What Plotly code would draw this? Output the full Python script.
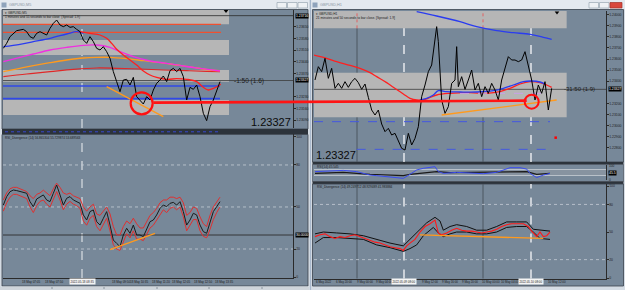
import plotly.graph_objects as go

W, H = 625, 290

# ============ DATA: left window (GBPUSD, M5) ============
m5_close = [1.23520, 1.23550, 1.23590, 1.23610, 1.23626, 1.23630, 1.23634, 1.23620, 1.23590, 1.23580,
            1.23610, 1.23620, 1.23610, 1.23600, 1.23640, 1.23670, 1.23690, 1.23660, 1.23650, 1.23660,
            1.23646, 1.23650, 1.23634, 1.23620, 1.23570, 1.23550, 1.23590, 1.23560, 1.23520, 1.23510,
            1.23530, 1.23500, 1.23460, 1.23380, 1.23320, 1.23260, 1.23330, 1.23334, 1.23300, 1.23346,
            1.23230, 1.23210, 1.23186, 1.23230, 1.23210, 1.23270, 1.23310, 1.23330, 1.23354, 1.23320,
            1.23386, 1.23400, 1.23380, 1.23400, 1.23350, 1.23210, 1.23286, 1.23274, 1.23300, 1.23230,
            1.23130, 1.23086, 1.23170, 1.23210, 1.23270, 1.23320]
m5_bar = list(range(len(m5_close)))

m5_blue_x = [0, 5, 9, 14, 19, 22, 24]
m5_blue = [1.23530, 1.23544, 1.23560, 1.23580, 1.23606, 1.23620, 1.23610]
m5_red_x = [23, 26, 29, 31, 32.5, 34, 36, 38, 40, 42, 44, 46, 49, 52, 55, 58, 60, 61.5, 63, 64.5, 65.2]
m5_red = [1.23620, 1.23610, 1.23600, 1.23580, 1.23550, 1.23514, 1.23480, 1.23450, 1.23420, 1.23384,
          1.23360, 1.23346, 1.23334, 1.23338, 1.23334, 1.23320, 1.23286, 1.23270, 1.23280, 1.23294, 1.23306]
m5_mag_x = [0, 5, 9, 14, 19, 24, 28, 32, 35, 39, 44, 49, 54, 59, 65]
m5_mag = [1.23440, 1.23466, 1.23486, 1.23510, 1.23526, 1.23538, 1.23540, 1.23526, 1.23500, 1.23470,
          1.23444, 1.23430, 1.23414, 1.23400, 1.23384]
m5_org_x = [0, 5, 9, 14, 19, 24, 28, 32, 37, 42, 47, 52, 57, 62, 65]
m5_org = [1.23380, 1.23400, 1.23416, 1.23434, 1.23450, 1.23462, 1.23466, 1.23466, 1.23458, 1.23446,
          1.23434, 1.23420, 1.23406, 1.23390, 1.23386]
m5_dred_x = [0, 7, 14, 21, 28, 34, 41, 48, 55, 61, 65]
m5_dred = [1.23350, 1.23366, 1.23380, 1.23394, 1.23402, 1.23400, 1.23396, 1.23390, 1.23386, 1.23382, 1.23380]
m5_trend_x = [31, 48]
m5_trend = [1.23290, 1.23110]
m5_zones = [(1.23750, 1.23664), (1.23570, 1.23480), (1.23390, 1.23320), (1.23210, 1.23120)]
m5_zone_end = 67.7
m5_red_levels = [1.23664, 1.23616]
m5_red_level_end = 65.3
m5_blue_levels = [1.23294, 1.23218]
m5_blue_level_end = 65.0
m5_top_line = 1.23716
m5_bid = 1.23327
m5_circle_x = [41.5]
m5_circle_y = [1.23190]
m5_vline = 23.6
m5_arrow_x = [66.8]
m5_arrow_y = [1.23744]
m5_ticks = [1.23650, 1.23580, 1.23510, 1.23440, 1.23370, 1.23230, 1.23160, 1.23090]

# left RSI divergence indicator
m5_rsi = [51.4, 57.4, 60.9, 62.1, 61.7, 60.9, 60.2, 59.8, 53.8, 50.2, 55.7, 57.4, 58.6, 55.0, 53.8, 59.8,
          65.7, 58.6, 51.4, 56.2, 57.4, 55.0, 53.8, 52.6, 44.3, 40.7, 46.7, 47.9, 39.5, 37.1, 41.9, 46.7,
          37.1, 26.4, 24.0, 21.7, 30.0, 34.8, 31.2, 37.1, 30.0, 30.0, 28.8, 34.8, 39.5, 40.7, 44.3, 49.0,
          51.4, 50.2, 52.6, 53.3, 51.4, 53.8, 46.7, 37.1, 40.7, 45.5, 44.3, 37.1, 32.4, 31.2, 39.5, 46.7,
          50.2, 53.8]
m5_rsi_up = [55, 60, 63, 64, 64, 63, 62, 61, 58, 56, 59, 60, 62, 60, 58, 63, 67, 64, 60, 59, 60, 58, 57, 56,
             50, 47, 50, 52, 45, 44, 47, 50, 45, 36, 30, 30, 36, 40, 38, 42, 38, 35, 35, 40, 44, 46, 49, 53,
             55, 55, 57, 57, 56, 57, 53, 44, 46, 50, 49, 43, 38, 36, 44, 50, 54, 57]
m5_rsi_dn = [47, 53, 57, 59, 59, 58, 57, 56, 50, 46, 51, 54, 55, 52, 50, 55, 61, 55, 48, 52, 54, 52, 51, 49,
             40, 37, 42, 44, 36, 33, 38, 42, 33, 23, 20, 19, 25, 31, 28, 33, 27, 27, 26, 30, 35, 37, 41, 45,
             48, 46, 49, 50, 48, 50, 43, 33, 37, 41, 41, 33, 29, 28, 34, 41, 46, 50]
m5_rsi_trend_x = [32, 45.5]
m5_rsi_trend = [19.5, 31.2]
m5_rsi_level = 30
m5_time_x = [-0.2, 5, 12, 32, 37.5, 44, 50, 56.5, 63]
m5_time_txt = ["18 May 2022", "18 May 07:05", "18 May 07:50", "18 May 09:50", "18 May 10:35",
               "18 May 11:20", "18 May 12:05", "18 May 12:50", "18 May 13:35"]
m5_time_box = "2022.05.18 08:35"

# ============ DATA: right window (GBPUSD, H1) ============
h1_x = [0, 1, 2, 3, 4, 5, 6, 7, 8, 9, 10, 11, 12, 13, 14, 15, 16, 17, 18, 19, 20, 21, 22, 23, 24, 25, 26,
        27, 28, 29, 30, 31, 32, 33, 34, 35, 36, 36.5, 37, 38, 39, 40, 41, 42, 42.5, 43, 44, 45, 46, 47, 48,
        49, 50, 51, 52, 53, 54, 55, 56, 57, 58, 59, 60, 61, 62, 63, 64, 65, 66, 67, 68, 69, 70, 71]
h1_close = [1.23411, 1.23531, 1.23486, 1.23606, 1.23426, 1.23516, 1.23336, 1.23381, 1.23336, 1.23396,
            1.23345, 1.23396, 1.23426, 1.23387, 1.23327, 1.23375, 1.23255, 1.23141, 1.23096, 1.23141,
            1.23015, 1.22946, 1.22976, 1.22916, 1.22931, 1.22871, 1.22796, 1.22781, 1.22931, 1.22826,
            1.22886, 1.22991, 1.23261, 1.23366, 1.23486, 1.23546, 1.23786, 1.23891, 1.23756, 1.23231,
            1.23111, 1.23171, 1.23381, 1.23411, 1.23711, 1.23351, 1.23441, 1.23327, 1.23411, 1.23501,
            1.23321, 1.23381, 1.23261, 1.23351, 1.23291, 1.23381, 1.23321, 1.23231, 1.23411, 1.23516,
            1.23621, 1.23591, 1.23591, 1.23576, 1.23591, 1.23666, 1.23531, 1.23411, 1.23231, 1.23366,
            1.23291, 1.23396, 1.23141, 1.23336]

h1_bluetop_x = [30.5, 36.5, 43.5, 48.5, 54.5, 59.5, 64.5, 68.5, 71]
h1_bluetop = [1.24026, 1.23987, 1.23936, 1.23891, 1.23855, 1.23837, 1.23822, 1.23795, 1.23777]
h1_red_x = [-0.5, 3.5, 6.5, 10.5, 13.5, 16.5, 18.5, 21.5, 23.5, 26.5, 28.5, 30.5, 33, 36.5, 40.5, 46.5,
            51.5, 55.5, 58.5, 61.5, 64.5, 67.5, 69.5, 71]
h1_red = [1.23636, 1.23606, 1.23576, 1.23543, 1.23516, 1.23477, 1.23441, 1.23387, 1.23345, 1.23285,
          1.23246, 1.23231, 1.23237, 1.23276, 1.23291, 1.23297, 1.23291, 1.23306, 1.23336, 1.23375,
          1.23396, 1.23387, 1.23366, 1.23345]
h1_blue_x = [31.5, 33.5, 35.5, 37, 39.5, 43.5, 48.5, 53.5, 56.5, 59.5, 62.5, 65, 67.5, 69]
h1_blue = [1.23231, 1.23246, 1.23276, 1.23315, 1.23306, 1.23303, 1.23303, 1.23315, 1.23336, 1.23366,
           1.23396, 1.23402, 1.23393, 1.23375]
h1_purple_x = [43.5, 70]
h1_purple = [1.23291, 1.23291]
h1_trend_x = [38, 72.5]
h1_trend = [1.23096, 1.23231]
h1_zones = [(1.24032, 1.23876), (1.23477, 1.23075)]
h1_zone_end = 75.5
h1_bid = 1.23327
h1_blue_dash = [(1.23036, -0.3, 70.5), (1.22787, 12.5, 70.5)]
h1_circle_x = [65]
h1_circle_y = [1.23216]
h1_dot_x = [72.2]
h1_dot_y = [1.22892]
h1_arrow_x = [72.6]
h1_arrow_y = [1.24018]
h1_vlines_dark = [12.6, 50.4]
h1_vlines_white = [26.7, 64.8]
h1_ticks = [1.24000, 1.23900, 1.23800, 1.23700, 1.23600, 1.23500, 1.23400, 1.23200, 1.23100,
            1.23000, 1.22900, 1.22800]

h1_rsi_x = [0, 4.5, 8.5, 12.5, 16.5, 18.5, 22.5, 24.5, 26.5, 28.5, 30.5, 32.5, 34.5, 36, 37, 38.5, 42.5,
            46.5, 50.5, 54.5, 56.5, 58.5, 61.5, 63.5, 64.5, 66.5, 68.5, 70.5]
h1_rsi = [56, 60, 64, 56, 33, 29, 22, 16, 11, 38, 67, 78, 82, 89, 56, 44, 51, 44, 42, 51, 67, 82, 82, 73,
          44, 16, 33, 44]
h1_rsi_sig_x = [0, 8.5, 16.5, 26.5, 28.5, 36.5, 40.5, 54.5, 63.5, 66.5, 70.5]
h1_rsi_sig = [44, 51, 38, 29, 38, 56, 49, 56, 56, 38, 44]

h1_div_x = [0, 1.5, 3, 4.5, 6, 7.5, 9, 10.5, 12, 13.5, 15, 16.5, 18, 19.5, 21, 22.5, 24, 25.5, 26.5, 27.5,
            28.5, 30, 31.5, 33, 34.5, 36, 37, 38, 39.5, 41, 42.5, 44, 45.5, 47, 48.5, 50, 51.5, 53, 54.5,
            56, 57.5, 59, 60.5, 62.5, 64, 65, 66.5, 67.5, 68.5, 69.5, 70.5]
h1_div = [45, 47, 48, 45, 43, 45, 44, 46, 47, 45, 43, 41, 39, 38, 36, 34, 33, 32, 30, 35, 38, 42, 50, 56,
          59, 63, 49, 47, 49, 52, 54, 52, 51, 51, 50, 49, 50, 51, 53, 56, 58, 59, 59, 59, 56, 51, 45, 50,
          45, 46, 50]
h1_div_up_x = [0, 2.5, 6.5, 10.5, 14.5, 18.5, 22.5, 26.5, 28.5, 31.5, 33.5, 36, 37.5, 38.5, 40.5, 42.5,
               45.5, 48.5, 51.5, 54.5, 57.5, 60.5, 63.5, 65.5, 67.5, 70.5]
h1_div_up = [48, 50, 49, 48, 46, 42, 38, 35, 42, 53, 60, 66, 62, 52, 56, 58, 56, 52, 52, 56, 61, 61, 61,
             53, 52, 51]
h1_div_dn_x = [0, 2.5, 6.5, 10.5, 14.5, 18.5, 22.5, 26.5, 28.5, 30.5, 32.5, 35.5, 37, 38.5, 40.5, 42.5,
               45.5, 48.5, 51.5, 54.5, 57.5, 60.5, 63.5, 65.5, 67.5, 70.5]
h1_div_dn = [38, 44, 44, 43, 42, 36, 33, 29, 32, 36, 46, 55, 49, 45, 48, 50, 50, 48, 48, 50, 55, 56, 56,
             50, 43, 42]
h1_div_trend_x = [31.5, 68.5]
h1_div_trend = [47, 43]
h1_time_px = [315, 335, 356, 375, 421, 441, 461.5, 480.5, 499.5, 547]
h1_time_txt = ["6 May 2022", "6 May 20:00", "9 May 00:00", "9 May 04:00", "9 May 12:00", "9 May 16:00",
               "9 May 20:00", "10 May 00:00", "10 May 04:00", "10 May 12:00"]
h1_time_box = ["2022.05.09 08:00", "2022.05.10 08:00"]

# ============ style constants ============
SLATE = "#778899"
ZONE = "#b6b6b6"
FRAME = "#d5dce4"
TXT = "#1c1c1c"
FONT = "Liberation Sans, Arial"

# axis geometry (pixels)
L_X = (3, 293); L_XR = [-0.1, 86.9]
L_MAIN = (10, 128); L_MAIN_R = [1.23042, 1.23750]
L_LOW = (134, 278); L_LOW_R = [-0.7, 102.1]
R_X = (314, 606); R_XR = [-0.3, 87.3]
R_MAIN = (11, 162); R_MAIN_R = [1.22673, 1.24032]
R_STRIP = (165, 180)
R_LOW = (184, 278.5); R_LOW_R = [-0.5, 102.2]


def fx(px):
    return px / W


def fy(py):
    return 1 - py / H


def dom_x(p):
    return [fx(p[0]), fx(p[1])]


def dom_y(p):
    return [fy(p[1]), fy(p[0])]


def data_to_px(xv, yv, xpx, xr, ypx, yr):
    px = xpx[0] + (xv - xr[0]) / (xr[1] - xr[0]) * (xpx[1] - xpx[0])
    py = ypx[1] - (yv - yr[0]) / (yr[1] - yr[0]) * (ypx[1] - ypx[0])
    return px, py


fig = go.Figure()


def line(x, y, color, width=1, xa="x", ya="y", dash=None, shape="linear"):
    fig.add_trace(go.Scatter(x=x, y=y, mode="lines", xaxis=xa, yaxis=ya, hoverinfo="skip",
                             line=dict(color=color, width=width, dash=dash, shape=shape),
                             showlegend=False))


# ---- left main traces
line(m5_blue_x, m5_blue, "#2a3cf0", 1.3, shape="spline")
line(m5_dred_x, m5_dred, "#e02828", 1.2, shape="spline")
line(m5_org_x, m5_org, "#ff9a1e", 1.3, shape="spline")
line(m5_mag_x, m5_mag, "#f030e0", 1.3, shape="spline")
line(m5_red_x, m5_red, "#ff2020", 1.3, shape="spline")
line(m5_trend_x, m5_trend, "#ff9a1e", 1.3)
line(m5_bar, m5_close, "#000000", 1)
fig.add_trace(go.Scatter(x=m5_circle_x, y=m5_circle_y, mode="markers", xaxis="x", yaxis="y",
                         marker=dict(symbol="circle-open", size=22, color="#ff1010", line=dict(width=2.2)),
                         showlegend=False, hoverinfo="skip"))
fig.add_trace(go.Scatter(x=m5_arrow_x, y=m5_arrow_y, mode="markers", xaxis="x", yaxis="y",
                         marker=dict(symbol="triangle-down", size=4, color="#000000"),
                         showlegend=False, hoverinfo="skip"))

# ---- left lower
line(m5_bar, m5_rsi_up, "#e03030", 1, "x2", "y2")
line(m5_bar, m5_rsi_dn, "#e03030", 1, "x2", "y2")
line(m5_bar, m5_rsi, "#1a1a1a", 1, "x2", "y2")
line(m5_rsi_trend_x, m5_rsi_trend, "#ff9a1e", 1.4, "x2", "y2")

# ---- right main
line(h1_bluetop_x, h1_bluetop, "#2a3cf0", 1.3, "x3", "y3", shape="spline")
line(h1_red_x, h1_red, "#ff2020", 1.3, "x3", "y3", shape="spline")
line(h1_purple_x, h1_purple, "#c8a0e8", 1, "x3", "y3", dash="dash")
line(h1_blue_x, h1_blue, "#2a3cf0", 1.3, "x3", "y3", shape="spline")
line(h1_trend_x, h1_trend, "#ff9a1e", 1.3, "x3", "y3")
line(h1_x, h1_close, "#000000", 1, "x3", "y3")
fig.add_trace(go.Scatter(x=h1_circle_x, y=h1_circle_y, mode="markers", xaxis="x3", yaxis="y3",
                         marker=dict(symbol="circle-open", size=14, color="#ff1010", line=dict(width=2)),
                         showlegend=False, hoverinfo="skip"))
fig.add_trace(go.Scatter(x=h1_dot_x, y=h1_dot_y, mode="markers", xaxis="x3", yaxis="y3",
                         marker=dict(symbol="square", size=2.5, color="#ff0000"),
                         showlegend=False, hoverinfo="skip"))
fig.add_trace(go.Scatter(x=h1_arrow_x, y=h1_arrow_y, mode="markers", xaxis="x3", yaxis="y3",
                         marker=dict(symbol="triangle-down", size=4, color="#000000"),
                         showlegend=False, hoverinfo="skip"))

# ---- right strip RSI
line(h1_rsi_sig_x, h1_rsi_sig, "#1a1a1a", 1.2, "x4", "y4")
line(h1_rsi_x, h1_rsi, "#3a4cf0", 1, "x4", "y4")

# ---- right lower
line(h1_div_up_x, h1_div_up, "#111111", 1, "x5", "y5")
line(h1_div_dn_x, h1_div_dn, "#111111", 1, "x5", "y5")
line(h1_div_x, h1_div, "#ff1a1a", 1.1, "x5", "y5")
line(h1_div_trend_x, h1_div_trend, "#ff9a1e", 1.3, "x5", "y5")

# ============ shapes ============
shapes = []


def prect(x0, y0, x1, y1, fill, lc=None, lw=0, layer="below"):
    shapes.append(dict(type="rect", xref="paper", yref="paper", x0=fx(x0), x1=fx(x1), y0=fy(y1), y1=fy(y0),
                       fillcolor=fill, line=dict(color=lc or fill, width=lw), layer=layer))


def pline(x0, y0, x1, y1, color, width=1, dash=None, layer="below"):
    shapes.append(dict(type="line", xref="paper", yref="paper", x0=fx(x0), x1=fx(x1), y0=fy(y0), y1=fy(y1),
                       line=dict(color=color, width=width, dash=dash), layer=layer))


# window chrome: title bars
prect(0, 0, 309, 9.5, "#e4e9ef")
prect(311, 0, 625, 9.5, "#e4e9ef")
prect(1.5, 2.5, 6.5, 7.5, "#8fa3bb")
prect(312.5, 2.5, 317.5, 7.5, "#8fa3bb")
for bx in (277, 287.5, 298):
    prect(bx, 2.5, bx + 9.5, 8, "#eef1f4", "#9aa6b2", 0.7)
for bx in (589, 599.5):
    prect(bx, 2.5, bx + 9.5, 8, "#eef1f4", "#9aa6b2", 0.7)
prect(610, 2.5, 622, 8, "#d9473c", "#a03028", 0.7)
pline(310.5, 0, 310.5, 290, "#a8b8cc", 1.2)

# pane backgrounds (left)
prect(2, 9.5, 308, 129, SLATE, "#3a424c", 0.8)
prect(2, 129, 308, 134.5, "#2c333b")
prect(2, 134.5, 308, 286, SLATE, "#3a424c", 0.8)
pline(5, 131.8, 220, 131.8, "#3848d0", 1, "dot")
prect(0, 286.5, 309, 290, "#cfd5db")
for sx in (52, 104, 157, 209, 262):
    pline(sx, 287, sx, 289, "#8a949e", 1)

# pane backgrounds (right)
prect(312.5, 9.5, 623.5, 162, SLATE, "#3a424c", 0.8)
prect(312.5, 162, 623.5, 164.5, "#2c333b")
prect(312.5, 164.5, 623.5, 181.5, SLATE, "#3a424c", 0.6)
prect(312.5, 181.5, 623.5, 184, "#2c333b")
prect(312.5, 184, 623.5, 286, SLATE, "#3a424c", 0.8)


def drect(xa, ya, x0, x1, y0, y1, fill):
    shapes.append(dict(type="rect", xref=xa, yref=ya, x0=x0, x1=x1, y0=y0, y1=y1,
                       fillcolor=fill, line=dict(width=0), layer="below"))


def dhline(xa, ya, y, x0, x1, color, width=1, dash=None):
    shapes.append(dict(type="line", xref=xa, yref=ya, x0=x0, x1=x1, y0=y, y1=y,
                       line=dict(color=color, width=width, dash=dash), layer="below"))


def dvline(xa, ya, x, color, width=1, dash=None):
    shapes.append(dict(type="line", xref=xa, yref=ya + " domain", x0=x, x1=x, y0=0, y1=1,
                       line=dict(color=color, width=width, dash=dash), layer="below"))


# left main zones & levels
for top, bot in m5_zones:
    drect("x", "y", L_XR[0], m5_zone_end, bot, top, ZONE)
for lv in m5_red_levels:
    dhline("x", "y", lv, L_XR[0], m5_red_level_end, "#f05030", 1.2)
for lv in m5_blue_levels:
    dhline("x", "y", lv, L_XR[0], m5_blue_level_end, "#3048e8", 1.6)
dhline("x", "y", m5_top_line, L_XR[0], L_XR[1], "#2a2a2a", 0.8)
dhline("x", "y", m5_bid, L_XR[0], L_XR[1], "#3c3c3c", 0.8)
dvline("x", "y", m5_vline, "#eef0f2", 1, "dash")
dvline("x2", "y2", m5_vline, "#eef0f2", 1, "dash")

# left lower levels
for lv in (80, 50, 20):
    dhline("x2", "y2", lv, L_XR[0], L_XR[1], "#c4ccd4", 0.8, "dot")
dhline("x2", "y2", m5_rsi_level, L_XR[0], L_XR[1], "#2e2e2e", 0.9)

# right main zones & lines
for top, bot in h1_zones:
    drect("x3", "y3", R_XR[0], h1_zone_end, bot, top, ZONE)
dhline("x3", "y3", h1_bid, R_XR[0], R_XR[1], "#3c3c3c", 0.8)
for lv, a, b in h1_blue_dash:
    dhline("x3", "y3", lv, a, b, "#4458e0", 1, "dash")
for v in h1_vlines_dark:
    dvline("x3", "y3", v, "#4c5660", 1)
    dvline("x5", "y5", v, "#4c5660", 1)
    shapes.append(dict(type="line", xref="x3", yref="y3", x0=v, x1=v, y0=h1_zones[0][1], y1=h1_zones[0][0],
                       line=dict(color="#e06060", width=1, dash="dot"), layer="below"))
for v in h1_vlines_white:
    dvline("x3", "y3", v, "#eef0f2", 1.4, "dash")
    dvline("x5", "y5", v, "#eef0f2", 1.4, "dash")

# right strip
drect("x4", "y4", R_XR[0], R_XR[1], 30, 70, "#8793a0")
dhline("x4", "y4", 70, R_XR[0], R_XR[1], "#c8ced4", 0.8)
dhline("x4", "y4", 30, R_XR[0], R_XR[1], "#c8ced4", 0.8)

# right lower levels
for lv in (80, 20):
    dhline("x5", "y5", lv, R_XR[0], R_XR[1], "#c4ccd4", 0.8, "dot")

# the long support line across both windows
sx, sy = data_to_px(45, 1.23194, L_X, L_XR, L_MAIN, L_MAIN_R)
ex, ey = data_to_px(63.5, 1.23225, R_X, R_XR, R_MAIN, R_MAIN_R)
pline(sx, sy, ex, ey, "#ff1414", 2.6, layer="above")

fig.update_layout(shapes=shapes)

# ============ annotations ============
ann = []


def ptext(x, y, text, size=5, color=TXT, anchor="left", bg=None, yanchor="middle"):
    ann.append(dict(x=fx(x), y=fy(y), xref="paper", yref="paper", text=text, showarrow=False,
                    xanchor=anchor, yanchor=yanchor, font=dict(size=size, color=color, family=FONT),
                    bgcolor=bg, borderpad=0))


ptext(8, 5, "GBPUSD,M5", 3.8, "#8a96a4")
ptext(319, 5, "GBPUSD,H1", 3.8, "#8a96a4")
ptext(4, 12.8, "▾ GBPUSD,M5", 3.2, "#202020")
ptext(4, 16.8, "1 minutes and 55 seconds to bar close  (Spread: 1.9)", 3.2, "#202020")
ptext(315, 13.5, "▾ GBPUSD,H1", 3.2, "#202020")
ptext(315, 18, "21 minutes and 50 seconds to bar close. [Spread: 1.9]", 3.3, "#202020")
ptext(233, 81, "-1:50 (1.6)", 6.5, "#1a1a1a")
ptext(563, 89, "-31:50 (1.9)", 6, "#1a1a1a")
ptext(292, 122, "1.23327", 11, "#0a0a0a", "right")
ptext(315, 155, "1.23327", 11, "#0a0a0a", "left")
ptext(4, 137.5, "RSI_Divergence (14) 56.865304 55.729874 53.689563", 3.1, "#1a1a1a")
ptext(316, 166.5, "RSI(14) 45.545", 3.2, "#1a1a1a")
ptext(316, 186.5, "RSI_Divergence (14) 49.249712 48.929489 41.983884", 3.1, "#1a1a1a")

# axis value boxes
_, by = data_to_px(0, m5_top_line, L_X, L_XR, L_MAIN, L_MAIN_R)
ptext(295, by, "1.23716", 3.4, "#ffffff", bg="#000000")
_, by = data_to_px(0, m5_bid, L_X, L_XR, L_MAIN, L_MAIN_R)
ptext(295, by, "1.23327", 3.4, "#ffffff", bg="#000000")
_, by = data_to_px(0, h1_bid, R_X, R_XR, R_MAIN, R_MAIN_R)
ptext(608, by, "1.23327", 3.4, "#ffffff", bg="#000000")
_, by = data_to_px(0, m5_rsi_level, L_X, L_XR, L_LOW, L_LOW_R)
ptext(295, by, "30.0000", 3.4, "#ffffff", bg="#000000")
ptext(608, 172.5, "45.5", 3.4, "#ffffff", bg="#000000")
ptext(608, 166, "100", 3.2)
ptext(608, 179.5, "0", 3.2)

# time labels
for xv, t in zip(m5_time_x, m5_time_txt):
    ann.append(dict(x=xv, y=fy(281.5), xref="x2", yref="paper", text=t, showarrow=False, xanchor="left",
                    yanchor="middle", font=dict(size=3.0, color="#1a1a1a", family=FONT)))
ann.append(dict(x=m5_vline, y=fy(281.5), xref="x2", yref="paper", text=m5_time_box, showarrow=False,
                xanchor="center", yanchor="middle", bgcolor="#f4f4f4", borderpad=0.5,
                font=dict(size=3.0, color="#1a1a1a", family=FONT)))
for px_, t in zip(h1_time_px, h1_time_txt):
    ptext(px_, 281.5, t, 2.9, "#1a1a1a")
for v, t in zip(h1_vlines_white, h1_time_box):
    ann.append(dict(x=v, y=fy(281.5), xref="x5", yref="paper", text=t, showarrow=False,
                    xanchor="center", yanchor="middle", bgcolor="#f4f4f4", borderpad=0.5,
                    font=dict(size=2.9, color="#1a1a1a", family=FONT)))

fig.update_layout(annotations=ann)

# ============ axes ============
tickfont = dict(size=3.4, color="#1e1e1e", family=FONT)


def xax(dom, rng, anchor, line=False):
    return dict(domain=dom_x(dom), range=rng, anchor=anchor, showgrid=False, zeroline=False,
                showticklabels=False, ticks="", showline=line, linecolor="#2a2a2a", linewidth=1,
                fixedrange=True, automargin=False)


def yax(dom, rng, anchor, tv, tt):
    return dict(domain=dom_y(dom), range=rng, anchor=anchor, side="right", showgrid=False, zeroline=False,
                tickvals=tv, ticktext=tt, ticks="outside", ticklen=1.5, tickcolor="#2a2a2a",
                tickfont=tickfont, showline=True, linecolor="#2a2a2a", linewidth=1,
                fixedrange=True, automargin=False)


fig.update_layout(
    width=W, height=H, margin=dict(l=0, r=0, t=0, b=0),
    paper_bgcolor=FRAME, plot_bgcolor="rgba(0,0,0,0)", template="none", showlegend=False,
    xaxis=xax(L_X, L_XR, "y"),
    yaxis=yax(L_MAIN, L_MAIN_R, "x", m5_ticks, [f"{v:.5f}" for v in m5_ticks]),
    xaxis2=xax(L_X, L_XR, "y2", True),
    yaxis2=yax(L_LOW, L_LOW_R, "x2", [0, 20, 50, 80, 100], ["0", "20", "50", "80", "100"]),
    xaxis3=xax(R_X, R_XR, "y3"),
    yaxis3=yax(R_MAIN, R_MAIN_R, "x3", h1_ticks, [f"{v:.5f}" for v in h1_ticks]),
    xaxis4=xax(R_X, R_XR, "y4"),
    yaxis4=yax(R_STRIP, [0, 100], "x4", [], []),
    xaxis5=xax(R_X, R_XR, "y5", True),
    yaxis5=yax(R_LOW, R_LOW_R, "x5", [0, 20, 50, 80, 100], ["0", "20", "50", "80", "100"]),
)

fig.write_html("out.html")
